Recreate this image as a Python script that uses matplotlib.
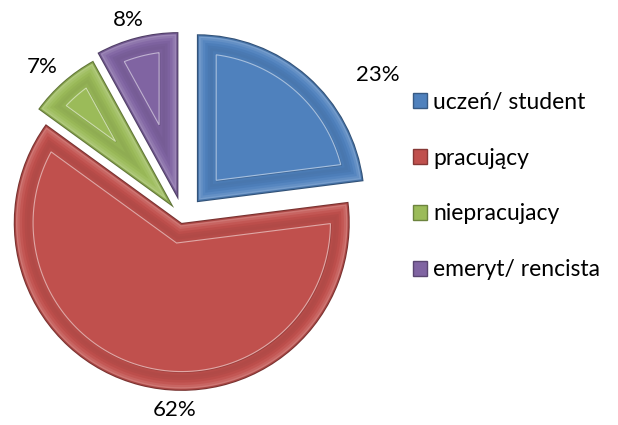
import numpy as np
import matplotlib
matplotlib.use("Agg")
import matplotlib.pyplot as plt
from matplotlib.patches import Patch, Polygon
from matplotlib.colors import to_rgb

# data
categories = ["uczeń/ student", "pracujący", "niepracujacy", "emeryt/ rencista"]
shares = [23, 62, 7, 8]
colors = ["#4F81BD", "#C0504D", "#9BBB59", "#8064A2"]
explode = [0.125, 0.03, 0.08, 0.11]

# label placement (radius in pie units, angle shift in degrees from wedge middle)
label_r = [1.44, 1.144, 1.23, 1.223]
label_shift = [-12.3, 12, 1.6, 1.1]

# bevel profile: (inset distance, brightness factor)
bevel = [(0.0, 0.62), (0.006, 0.88), (0.013, 1.22), (0.022, 1.12), (0.035, 1.04),
         (0.05, 0.98), (0.065, 0.94), (0.08, 0.92), (0.095, 0.95)]
face_inset = 0.115


def shade(c, f):
    r, g, b = to_rgb(c)
    if f < 1:
        return (r * f, g * f, b * f)
    f = f - 1
    return (r + (1 - r) * f, g + (1 - g) * f, b + (1 - b) * f)


def inset_path(cx, cy, r, t1, t2, d):
    """Outline of a wedge shrunk by d on every side."""
    half = np.radians((t2 - t1) / 2)
    mid = np.radians((t1 + t2) / 2)
    shift = d / np.sin(half) if d > 0 else 0.0
    ax_ = cx + shift * np.cos(mid)
    ay_ = cy + shift * np.sin(mid)
    rr = r - d
    pts = [(ax_, ay_)]
    ends = []
    for t in (t1, t2):
        u = np.array([np.cos(np.radians(t)), np.sin(np.radians(t))])
        p = np.array([ax_ - cx, ay_ - cy])
        b = 2 * p.dot(u)
        c = p.dot(p) - rr ** 2
        s = (-b + np.sqrt(b * b - 4 * c)) / 2
        q = p + s * u
        ends.append(np.degrees(np.arctan2(q[1], q[0])))
    a1, a2 = ends
    if a2 < a1:
        a2 += 360
    for a in np.linspace(a1, a2, 120):
        pts.append((cx + rr * np.cos(np.radians(a)), cy + rr * np.sin(np.radians(a))))
    return np.array(pts)


fig = plt.figure(figsize=(6.18, 4.25), dpi=100)
ax = fig.add_axes([0, 0, 1, 1])

wedges, _ = ax.pie(shares, colors=colors, startangle=90, counterclock=False,
                   explode=explode, radius=1.0,
                   wedgeprops=dict(linewidth=0))

for w, col, v, lr, ls in zip(wedges, colors, shares, label_r, label_shift):
    cx, cy = w.center
    r, t1, t2 = w.r, w.theta1, w.theta2
    w.set_facecolor(shade(col, 0.62))
    # stepped gradient for the bevelled rim
    for d, f in bevel[1:]:
        ax.add_patch(Polygon(inset_path(cx, cy, r, t1, t2, d), closed=True,
                             facecolor=shade(col, f), edgecolor="none", linewidth=0))
    inner = inset_path(cx, cy, r, t1, t2, face_inset)
    ax.add_patch(Polygon(inner + np.array([0.004, -0.004]), closed=True, fill=False,
                         edgecolor=shade(col, 0.8), linewidth=0.8))
    ax.add_patch(Polygon(inner, closed=True, facecolor=col,
                         edgecolor=shade(col, 1.5), linewidth=0.8))
    mid = np.radians((t1 + t2) / 2 + ls)
    ax.text(lr * np.cos(mid), lr * np.sin(mid), f"{v}%", ha="center", va="center",
            fontsize=16, family="Lato", color="black")

ax.set_aspect("equal")
ax.set_xlim(-183 / 168, (618 - 183) / 168)
ax.set_ylim(-(425 - 218) / 168, 218 / 168)
ax.axis("off")

handles = [Patch(facecolor=c, edgecolor=shade(c, 0.7)) for c in colors]
fig.legend(handles, categories, loc="center left", bbox_to_anchor=(0.668, 0.5624),
           frameon=False, prop=dict(family="Lato", size=16.5), borderpad=0,
           borderaxespad=0, handlelength=0.64, handleheight=0.64,
           handletextpad=0.25, labelspacing=1.52)

fig.savefig("out.png", dpi=100)
